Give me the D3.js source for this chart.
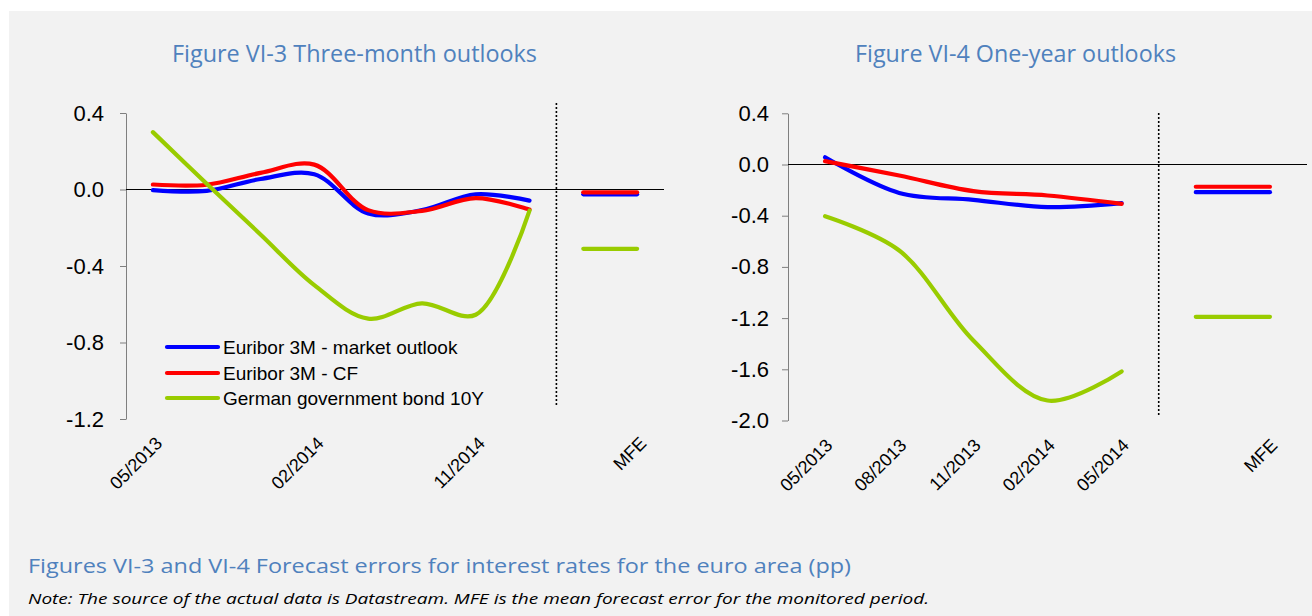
<!DOCTYPE html>
<html>
<head>
<meta charset="utf-8">
<script src="https://cdn.jsdelivr.net/npm/d3@7"></script>
<style>
  html, body { margin: 0; padding: 0; background: #ffffff; }
  svg { display: block; }
</style>
</head>
<body>
<svg id="chart" width="1312" height="616"></svg>
<script>
// ---------- DATA ----------
const leftCategories = ["05/2013","08/2013","11/2013","02/2014","05/2014","08/2014","11/2014","02/2015","","MFE"];
const leftLabelIdx = [0, 3, 6, 9];
const leftEuriborMarket = [-0.003, -0.007, 0.055, 0.080, -0.125, -0.108, -0.025, -0.058];
const leftEuriborCF     = [0.026, 0.025, 0.087, 0.130, -0.108, -0.112, -0.045, -0.105];
const leftBund10Y       = [0.300, 0.030, -0.235, -0.500, -0.675, -0.595, -0.655, -0.110];
const leftMFE = { market: -0.025, cf: -0.015, bund: -0.31 };

const rightCategories = ["05/2013","08/2013","11/2013","02/2014","05/2014","","MFE"];
const rightLabelIdx = [0, 1, 2, 3, 4, 6];
const rightEuriborMarket = [0.057, -0.222, -0.276, -0.333, -0.302];
const rightEuriborCF     = [0.026, -0.086, -0.208, -0.242, -0.307];
const rightBund10Y       = [-0.404, -0.672, -1.375, -1.844, -1.617];
const rightMFE = { market: -0.216, cf: -0.174, bund: -1.19 };

const leftYTicks = [0.4, 0.0, -0.4, -0.8, -1.2];
const rightYTicks = [0.4, 0.0, -0.4, -0.8, -1.2, -1.6, -2.0];

const seriesNames = ["Euribor 3M - market outlook", "Euribor 3M - CF", "German government bond 10Y"];
const seriesColors = ["#0000ff", "#ff0000", "#99cc00"];

const titles = ["Figure VI-3 Three-month outlooks", "Figure VI-4 One-year outlooks"];
const caption = "Figures VI-3 and VI-4 Forecast errors for interest rates for the euro area (pp)";
const note = "Note: The source of the actual data is Datastream. MFE is the mean forecast error for the monitored period.";

// ---------- DRAW ----------
const svg = d3.select("#chart");
svg.append("rect").attr("x", 9).attr("y", 11).attr("width", 1303).attr("height", 605).attr("fill", "#f2f2f2");

const titleColor = "#4f81bd";
const tickFont = "'Liberation Sans', Arial, sans-serif";

function drawPanel(cfg) {
  const g = svg.append("g");
  const x = d3.scaleLinear().domain([-0.5, cfg.categories.length - 0.5]).range(cfg.xRange);
  const y = d3.scaleLinear().domain(cfg.yDomain).range(cfg.yRange);

  // y axis
  const ax = g.append("g")
    .attr("transform", `translate(${cfg.xRange[0]},0)`)
    .call(d3.axisLeft(y).tickValues(cfg.yTicks).tickSize(6).tickSizeOuter(0).tickPadding(cfg.tickPad)
      .tickFormat(d => d.toFixed(1)));
  ax.selectAll("path, line").attr("stroke", "#7f7f7f");
  ax.selectAll("text").attr("font-family", tickFont).attr("font-size", 22).attr("fill", "#000");

  // zero line
  g.append("line")
    .attr("x1", cfg.xRange[0]).attr("x2", cfg.xRange[1])
    .attr("y1", y(0)).attr("y2", y(0))
    .attr("stroke", "#000").attr("stroke-width", 1);

  // dotted separator
  const sepX = x(cfg.dataLen - 0.5);
  g.append("line")
    .attr("x1", sepX).attr("x2", sepX)
    .attr("y1", cfg.sepY[0]).attr("y2", cfg.sepY[1])
    .attr("stroke", "#000").attr("stroke-width", 1.6).attr("stroke-dasharray", "2,2");

  // x labels
  g.selectAll("text.xl").data(cfg.labelIdx).enter().append("text")
    .attr("class", "xl")
    .attr("font-family", tickFont).attr("font-size", 18)
    .attr("text-anchor", "end")
    .attr("transform", i => `translate(${x(i) + cfg.labelDx},${cfg.labelY}) rotate(-45)`)
    .attr("dy", "0.35em")
    .text(i => cfg.categories[i]);

  // series lines
  const line = d3.line().x((d, i) => x(i)).y(d => y(d)).curve(d3.curveCatmullRom.alpha(0.5));
  cfg.series.forEach((s, k) => {
    g.append("path").datum(s)
      .attr("d", line)
      .attr("fill", "none").attr("stroke", seriesColors[k])
      .attr("stroke-width", 4.2).attr("stroke-linecap", "round").attr("stroke-linejoin", "round");
  });

  // MFE segments (blank category + MFE category)
  const mfeIdx = [cfg.categories.length - 2, cfg.categories.length - 1];
  cfg.mfe.forEach((v, k) => {
    g.append("line")
      .attr("x1", x(mfeIdx[0])).attr("x2", x(mfeIdx[1]))
      .attr("y1", y(v)).attr("y2", y(v))
      .attr("stroke", seriesColors[k]).attr("stroke-width", 4.2).attr("stroke-linecap", "round");
  });

  // title
  g.append("text")
    .attr("x", cfg.titleX).attr("y", 62)
    .attr("text-anchor", "middle")
    .attr("font-family", "'Open Sans', 'Noto Sans', sans-serif")
    .attr("font-size", 24)
    .attr("fill", titleColor)
    .attr("textLength", cfg.titleLen).attr("lengthAdjust", "spacingAndGlyphs")
    .text(cfg.title);

  return { x, y, g };
}

const left = drawPanel({
  categories: leftCategories, labelIdx: leftLabelIdx, dataLen: leftBund10Y.length,
  xRange: [126, 664], yDomain: [-1.2, 0.4], yRange: [419, 113], yTicks: leftYTicks, tickPad: 16,
  sepY: [103, 405], labelDx: 6, labelY: 440,
  series: [leftEuriborMarket, leftEuriborCF, leftBund10Y],
  mfe: [leftMFE.market, leftMFE.cf, leftMFE.bund],
  title: titles[0], titleX: 354.5, titleLen: 365
});

const right = drawPanel({
  categories: rightCategories, labelIdx: rightLabelIdx, dataLen: rightBund10Y.length,
  xRange: [788, 1307], yDomain: [-2.0, 0.4], yRange: [420.5, 113.3], yTicks: rightYTicks, tickPad: 13,
  sepY: [113, 415], labelDx: 4, labelY: 442,
  series: [rightEuriborMarket, rightEuriborCF, rightBund10Y],
  mfe: [rightMFE.market, rightMFE.cf, rightMFE.bund],
  title: titles[1], titleX: 1015.5, titleLen: 321
});

// legend (inside left panel)
const legendY = [347, 373, 398];
const lg = svg.append("g");
seriesNames.forEach((name, k) => {
  lg.append("line").attr("x1", 167).attr("x2", 218).attr("y1", legendY[k]).attr("y2", legendY[k])
    .attr("stroke", seriesColors[k]).attr("stroke-width", 4.2).attr("stroke-linecap", "round");
  lg.append("text").attr("x", 223).attr("y", legendY[k]).attr("dy", "0.35em")
    .attr("font-family", tickFont).attr("font-size", 19).attr("fill", "#000")
    .text(name);
});

// caption and note
svg.append("text").attr("x", 28).attr("y", 573)
  .attr("font-family", "'Open Sans', 'Noto Sans', sans-serif").attr("font-size", 20)
  .attr("fill", titleColor)
  .attr("textLength", 823).attr("lengthAdjust", "spacingAndGlyphs")
  .text(caption);
svg.append("text").attr("x", 28).attr("y", 604)
  .attr("font-family", "'Open Sans', 'Noto Sans', sans-serif").attr("font-size", 15)
  .attr("font-style", "italic").attr("fill", "#000")
  .attr("textLength", 901).attr("lengthAdjust", "spacingAndGlyphs")
  .text(note);
</script>
</body>
</html>
